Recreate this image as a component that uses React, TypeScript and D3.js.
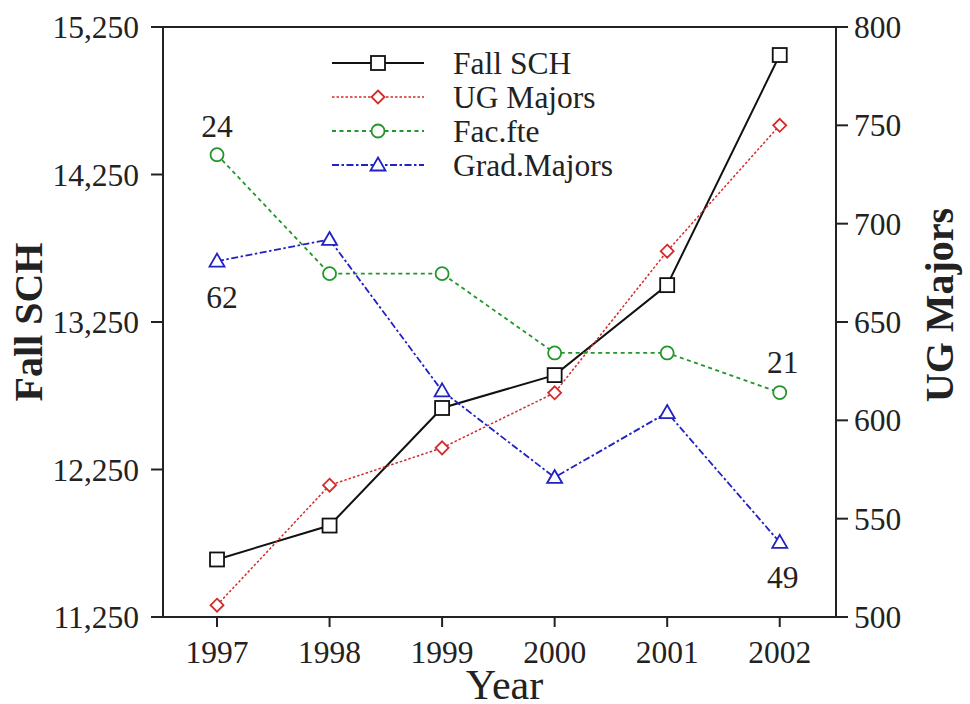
import React from "react";
import * as d3 from "d3";

const years = [1997, 1998, 1999, 2000, 2001, 2002];
const fallSCH = [11640, 11870, 12667, 12890, 13500, 15060];
const ugMajors = [506, 567, 586, 614, 686, 750];
const facFte = [24, 22.5, 22.5, 21.5, 21.5, 21];
const gradMajors = [62, 63, 56, 52, 55, 49];
const leftTicks = [11250, 12250, 13250, 14250, 15250];
const rightTicks = [500, 550, 600, 650, 700, 750, 800];
const legendNames = ["Fall SCH", "UG Majors", "Fac.fte", "Grad.Majors"];

const W = 970, H = 704;
const L = 163, R = 836, T = 27, B = 617;
const FONT = '"Liberation Serif", Tinos, "Times New Roman", "DejaVu Serif", serif';
const FS = 31.5;

const x = d3.scaleLinear().domain([1996.52, 2002.5]).range([L, R]);
const yL = d3.scaleLinear().domain([11250, 15250]).range([B, T]);
const yR = d3.scaleLinear().domain([500, 800]).range([B, T]);
const yFte = d3.scaleLinear().domain([18.17, 25.61]).range([B, T]);
const yGrad = d3.scaleLinear().domain([45.55, 72.82]).range([B, T]);

const fmt = d3.format(",");

type Series = {
  name: string;
  values: number[];
  scale: d3.ScaleLinear<number, number>;
  color: string;
  dash: string | undefined;
  width: number;
  marker: string;
};

const series: Series[] = [
  { name: legendNames[0], values: fallSCH, scale: yL, color: "#111", dash: undefined, width: 2, marker: "square" },
  { name: legendNames[1], values: ugMajors, scale: yR, color: "#d42a2a", dash: "2.5,2", width: 1.5, marker: "diamond" },
  { name: legendNames[2], values: facFte, scale: yFte, color: "#23962a", dash: "4,3.5", width: 1.8, marker: "circle" },
  { name: legendNames[3], values: gradMajors, scale: yGrad, color: "#2121c4", dash: "7,2.5,2.5,2.5", width: 1.8, marker: "triangle" },
];

const txt: React.CSSProperties = { fontFamily: FONT };

function Marker({ type, cx, cy, color }: { type: string; cx: number; cy: number; color: string }) {
  if (type === "square")
    return <rect x={cx - 7} y={cy - 7} width={14} height={14} fill="#fff" stroke={color} strokeWidth={1.8} />;
  if (type === "diamond")
    return (
      <path
        d={`M${cx},${cy - 6.5}L${cx + 6.5},${cy}L${cx},${cy + 6.5}L${cx - 6.5},${cy}Z`}
        fill="#fff"
        stroke={color}
        strokeWidth={1.8}
      />
    );
  if (type === "circle")
    return <circle cx={cx} cy={cy} r={6.5} fill="#fff" stroke={color} strokeWidth={1.8} />;
  return (
    <path
      d={`M${cx},${cy - 7.5}L${cx + 7.5},${cy + 5.5}L${cx - 7.5},${cy + 5.5}Z`}
      fill="#fff"
      stroke={color}
      strokeWidth={1.8}
    />
  );
}

export default function App() {
  const line = (s: Series) =>
    d3
      .line<number>()
      .x((_, i) => x(years[i]))
      .y((v) => s.scale(v))(s.values) || "";

  const legendY0 = 63;
  const legendDy = 34;

  return (
    <svg width={W} height={H} style={{ position: "absolute", left: 0, top: 0, background: "#fff", fontFamily: FONT }}>
      <rect x={0} y={0} width={W} height={H} fill="#fff" />
      {/* frame */}
      <line x1={L} x2={R} y1={T} y2={T} stroke="#222" strokeWidth={2} />
      <line x1={L} x2={R} y1={B} y2={B} stroke="#222" strokeWidth={2} />
      <line x1={L} x2={L} y1={T} y2={B} stroke="#222" strokeWidth={2} />
      <line x1={R} x2={R} y1={T} y2={B} stroke="#222" strokeWidth={2} />

      {/* left axis */}
      {leftTicks.map((t) => (
        <g key={"l" + t}>
          <line x1={L - 12} x2={L} y1={yL(t)} y2={yL(t)} stroke="#222" strokeWidth={2} />
          <text x={L - 24} y={yL(t)} dy="0.35em" textAnchor="end" fontSize={FS} fill="#222" style={txt}>
            {fmt(t)}
          </text>
        </g>
      ))}
      {/* right axis */}
      {rightTicks.map((t) => (
        <g key={"r" + t}>
          <line x1={R} x2={R + 12} y1={yR(t)} y2={yR(t)} stroke="#222" strokeWidth={2} />
          <text x={R + 18} y={yR(t)} dy="0.35em" textAnchor="start" fontSize={FS} fill="#222" style={txt}>
            {t}
          </text>
        </g>
      ))}
      {/* bottom axis */}
      {years.map((yr) => (
        <g key={"x" + yr}>
          <line x1={x(yr)} x2={x(yr)} y1={B} y2={B + 10} stroke="#222" strokeWidth={2} />
          <text x={x(yr)} y={B + 46} textAnchor="middle" fontSize={FS} fill="#222" style={txt}>
            {yr}
          </text>
        </g>
      ))}

      {/* axis titles */}
      <text
        transform={`translate(42,322) rotate(-90)`}
        textAnchor="middle"
        fontSize={40}
        fontWeight="bold"
        fill="#222"
        style={txt}
      >
        Fall SCH
      </text>
      <text
        transform={`translate(953,305) rotate(-90)`}
        textAnchor="middle"
        fontSize={40}
        fontWeight="bold"
        fill="#222"
        style={txt}
      >
        UG Majors
      </text>
      <text x={(L + R) / 2 + 5} y={699} textAnchor="middle" fontSize={42} fill="#222" style={txt}>
        Year
      </text>

      {/* series */}
      {series.map((s) => (
        <g key={s.name}>
          <path d={line(s)} fill="none" stroke={s.color} strokeWidth={s.width} strokeDasharray={s.dash} />
          {s.values.map((v, i) => (
            <Marker key={i} type={s.marker} cx={x(years[i])} cy={s.scale(v)} color={s.color} />
          ))}
        </g>
      ))}

      {/* annotations */}
      <text x={x(years[0])} y={yFte(facFte[0]) - 18} textAnchor="middle" fontSize={FS} fill="#222" style={txt}>
        {facFte[0]}
      </text>
      <text x={x(years[0]) + 5} y={yGrad(gradMajors[0]) + 47} textAnchor="middle" fontSize={FS} fill="#222" style={txt}>
        {gradMajors[0]}
      </text>
      <text x={x(years[5]) + 3} y={yFte(facFte[5]) - 20} textAnchor="middle" fontSize={FS} fill="#222" style={txt}>
        {facFte[5]}
      </text>
      <text x={x(years[5]) + 3} y={yGrad(gradMajors[5]) + 46} textAnchor="middle" fontSize={FS} fill="#222" style={txt}>
        {gradMajors[5]}
      </text>

      {/* legend */}
      {series.map((s, i) => {
        const cy = legendY0 + i * legendDy;
        return (
          <g key={"lg" + s.name}>
            <line x1={332} x2={424} y1={cy} y2={cy} stroke={s.color} strokeWidth={s.width} strokeDasharray={s.dash} />
            <Marker type={s.marker} cx={378} cy={cy} color={s.color} />
            <text x={453} y={cy} dy="0.35em" fontSize={FS} fill="#222" style={txt}>
              {s.name}
            </text>
          </g>
        );
      })}
    </svg>
  );
}
